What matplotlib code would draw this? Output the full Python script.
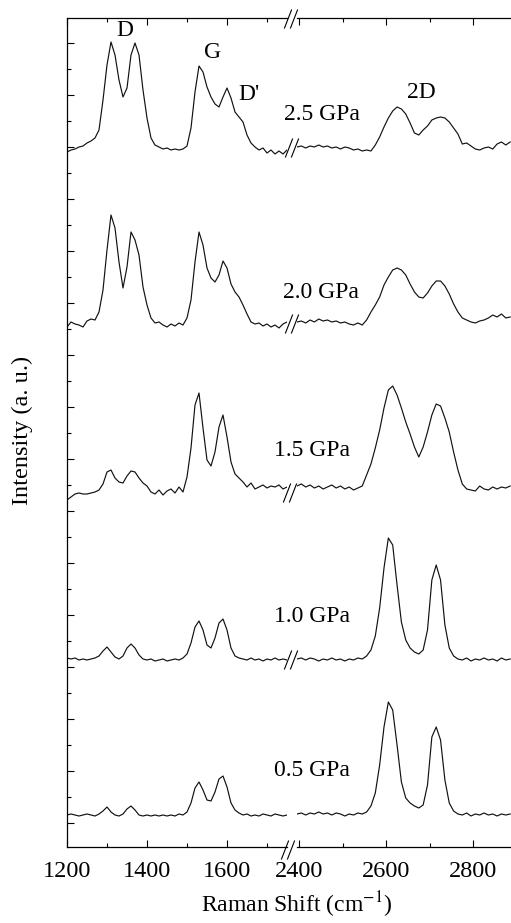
import numpy as np
import matplotlib
matplotlib.use("Agg")
import matplotlib.pyplot as plt
from matplotlib.lines import Line2D

plt.rcParams['font.family'] = ['Liberation Serif', 'DejaVu Serif']
plt.rcParams['mathtext.fontset'] = 'stix'

# wavenumber grids for the two panels of the broken axis (cm^-1)
wn_low = np.arange(1200, 1751, 10)
wn_high = np.arange(2395, 2886, 10)

pressures = ['0.5 GPa', '1.0 GPa', '1.5 GPa', '2.0 GPa', '2.5 GPa']
offsets = [29, 184, 345, 517, 691]

# intensities (a.u.), low-wavenumber panel
low_05 = [3, 4, 3, 2, 3, 4, 3, 2, 4, 7, 11, 6, 3, 2, 4, 9, 12, 8, 3, 2,
          3, 2, 3, 2, 3, 2, 3, 2, 4, 3, 6, 15, 30, 36, 28, 18, 17, 26, 39, 42,
          31, 15, 8, 5, 3, 4, 2, 3, 2, 4, 3, 2, 4, 3, 2, 3]
low_10 = [5, 4, 5, 3, 4, 3, 4, 5, 7, 12, 16, 11, 6, 4, 7, 15, 19, 15, 8, 4,
          3, 4, 2, 3, 4, 2, 3, 4, 3, 5, 9, 20, 36, 42, 33, 18, 15, 25, 40, 44,
          33, 15, 7, 5, 4, 3, 5, 3, 4, 2, 4, 3, 5, 3, 4, 3]
low_15 = [2, 5, 8, 9, 8, 8, 9, 10, 12, 18, 30, 32, 24, 20, 19, 26, 31, 30, 24, 19,
          16, 10, 8, 12, 7, 11, 13, 9, 15, 10, 25, 54, 97, 109, 74, 42, 36, 50, 75, 87,
          65, 40, 28, 24, 20, 15, 19, 13, 15, 17, 14, 16, 15, 17, 13, 15]
low_20 = [3, 8, 6, 5, 3, 9, 11, 10, 18, 40, 80, 115, 102, 68, 42, 63, 98, 90, 75, 43,
          25, 12, 7, 8, 5, 3, 6, 4, 7, 5, 12, 30, 68, 98, 85, 62, 52, 48, 55, 69,
          62, 46, 38, 33, 25, 16, 8, 6, 7, 4, 6, 3, 5, 2, 6, 8]
low_25 = [4, 6, 7, 9, 10, 13, 15, 18, 26, 56, 91, 114, 101, 76, 59, 68, 101, 113, 101, 66,
          38, 18, 11, 9, 7, 8, 6, 7, 6, 7, 10, 28, 64, 90, 84, 69, 59, 52, 49, 59,
          68, 58, 44, 39, 34, 21, 13, 9, 6, 8, 3, 6, 2, 5, 2, 6]

# high-wavenumber panel (2D band)
high_05 = [4, 5, 3, 5, 4, 6, 4, 5, 3, 5, 4, 2, 4, 3, 5, 4, 6, 12, 25, 53,
           91, 116, 108, 73, 36, 20, 15, 12, 10, 13, 33, 81, 91, 78, 38, 15, 7, 4, 3, 5,
           2, 4, 3, 5, 3, 4, 2, 4, 3, 4]
high_10 = [4, 5, 3, 5, 4, 2, 4, 3, 5, 3, 4, 2, 4, 3, 5, 4, 7, 13, 27, 55,
           95, 125, 118, 78, 41, 23, 15, 11, 9, 13, 33, 83, 98, 83, 38, 15, 7, 4, 3, 5,
           2, 4, 3, 5, 3, 4, 2, 5, 3, 4]
high_15 = [16, 18, 15, 17, 14, 16, 13, 15, 17, 14, 16, 13, 15, 12, 14, 16, 27, 38, 54, 72,
           94, 112, 116, 107, 94, 80, 68, 55, 45, 55, 70, 87, 98, 96, 84, 70, 50, 32, 18, 13,
           12, 11, 16, 13, 12, 15, 13, 15, 14, 16]
high_20 = [8, 9, 7, 10, 8, 11, 9, 10, 8, 9, 7, 8, 6, 5, 7, 5, 10, 18, 25, 33,
           45, 53, 60, 62, 60, 55, 46, 38, 33, 32, 37, 44, 49, 49, 44, 36, 26, 18, 12, 10,
           8, 7, 9, 10, 12, 15, 13, 16, 12, 13]
high_25 = [9, 10, 8, 10, 9, 11, 9, 10, 8, 9, 7, 9, 8, 6, 7, 5, 6, 5, 11, 19,
           29, 38, 45, 49, 47, 42, 33, 23, 21, 26, 30, 36, 38, 39, 38, 34, 28, 22, 12, 13,
           10, 7, 6, 8, 9, 7, 12, 14, 11, 14]

low_sets = [low_05, low_10, low_15, low_20, low_25]
high_sets = [high_05, high_10, high_15, high_20, high_25]

W, H = 511, 923
fig = plt.figure(figsize=(W / 100, H / 100), dpi=100)


def box(x0, x1, y0, y1):
    return [x0 / W, 1 - y1 / H, (x1 - x0) / W, (y1 - y0) / H]


axL = fig.add_axes(box(67, 287, 18, 847))
axR = fig.add_axes(box(297, 511, 18, 847))

for lo, hi, off in zip(low_sets, high_sets, offsets):
    axL.plot(wn_low, np.array(lo) + off, color='#111111', lw=0.85)
    axR.plot(wn_high, np.array(hi) + off, color='#111111', lw=0.85)

for ax in (axL, axR):
    ax.set_ylim(0, 829)
    ax.tick_params(axis='x', which='both', direction='in', top=True,
                   labelsize=17.5, pad=10, width=0.8)
    ax.tick_params(axis='x', which='major', length=5)
    ax.tick_params(axis='x', which='minor', length=3)
    for s in ax.spines.values():
        s.set_linewidth(0.9)

axL.set_xlim(1200, 1750)
axL.set_xticks([1200, 1400, 1600])
axL.set_xticks([1300, 1500, 1700], minor=True)
axL.spines['right'].set_visible(False)
axL.set_yticks(np.arange(24, 829, 52))
axL.set_yticks(np.arange(50, 829, 52), minor=True)
axL.tick_params(axis='y', which='both', direction='in', labelleft=False, width=0.8)
axL.tick_params(axis='y', which='major', length=5)
axL.tick_params(axis='y', which='minor', length=3)

axR.set_xlim(2395, 2395 + 214 / 0.435)
axR.set_xticks([2400, 2600, 2800])
axR.set_xticks([2500, 2700], minor=True)
axR.spines['left'].set_visible(False)
axR.spines['right'].set_visible(False)
axR.set_yticks([])


def brk(xc, yc):
    for dx in (-3, 3):
        fig.add_artist(Line2D([(xc + dx - 3.5) / W, (xc + dx + 3.5) / W],
                              [1 - (yc + 9) / H, 1 - (yc - 9) / H],
                              color='black', lw=0.8, transform=fig.transFigure))


for xc, yc in [(291, 19), (288, 850), (292, 148), (292, 324), (290, 493), (291, 660)]:
    brk(xc, yc)

# peak labels
for txt, x, y in [('D', 125, 30), ('G', 213, 52), ("D'", 249, 95), ('2D', 421, 93)]:
    fig.text(x / W, 1 - y / H, txt, fontsize=17, ha='center', va='center')

label_pos = [(312, 771), (312, 617), (312, 450), (321, 293), (322, 114)]
for txt, (x, y) in zip(pressures, label_pos):
    fig.text(x / W, 1 - y / H, txt, fontsize=17, ha='center', va='center')

fig.text(297 / W, 1 - 905 / H, 'Raman Shift (cm$^{-1}$)', fontsize=17,
         ha='center', va='center')
fig.text(22 / W, 1 - 430 / H, 'Intensity (a. u.)', fontsize=17.5, rotation=90,
         ha='center', va='center')

fig.savefig('out.png', dpi=100)
